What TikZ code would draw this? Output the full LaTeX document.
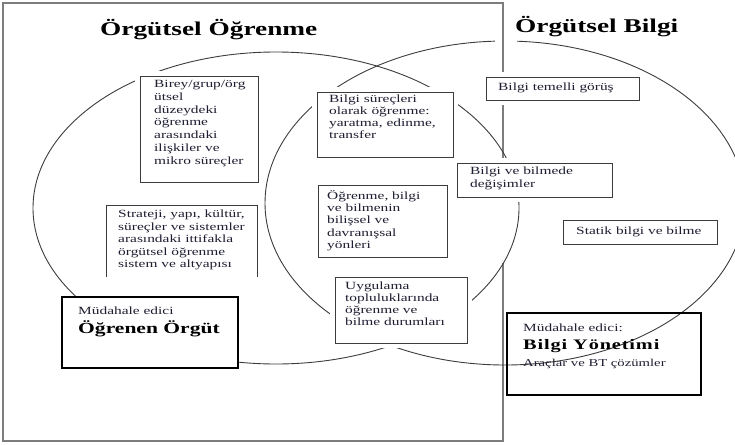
\documentclass[tikz,border=0pt]{standalone}
\usepackage{fontspec}
\setmainfont{Liberation Serif}
\newfontfamily\wideserif[FakeStretch=1.4]{Liberation Serif}
\newfontfamily\widespaced[FakeStretch=1.4,LetterSpace=6]{Liberation Serif}
\definecolor{ink}{RGB}{30,30,50}
\definecolor{framegray}{RGB}{125,125,125}
\definecolor{ringgray}{RGB}{60,60,60}

\begin{document}
\begin{tikzpicture}[x=1pt,y=-1pt,
  frame/.style={draw=framegray,line width=1.3pt},
  ring/.style={draw=ringgray,line width=0.9pt},
  card/.style={draw=ringgray,line width=0.8pt,fill=white,
    preaction={draw=white,line width=10pt},
    inner sep=0pt,outer sep=0pt,anchor=north west},
  opencard/.style={draw=ringgray,line width=0.8pt},
  heavycard/.style={draw=black,line width=2.6pt,inner sep=0pt,outer sep=0pt,anchor=north west},
  body/.style={font=\wideserif\fontsize{11}{12.4}\selectfont,align=left,
    inner sep=0pt,anchor=north west,text=ink},
  title/.style={font=\wideserif\bfseries\fontsize{19.5}{22}\selectfont,
    inner sep=0pt,anchor=base west,text=black},
  small/.style={font=\wideserif\fontsize{11}{12.4}\selectfont,
    inner sep=0pt,anchor=base west,text=ink},
]
\useasboundingbox (0,0) rectangle (735,444);

% outer frame (right edge interrupted)
\draw[frame] (503,263) -- (503,441) -- (3,441) -- (3,3) -- (503,3) -- (503,160);

% the two overlapping ellipses
\draw[ring] (276,208) ellipse [x radius=243,y radius=156];
\draw[ring] (505,203) ++(272.9:240 and 162)
  arc[start angle=272.9,end angle=627.6,x radius=240,y radius=162];

% headings
\node[title] (hOL) at (100,36) {Örgütsel Öğrenme};
\node[title] (hOB) at (515,33) {Örgütsel Bilgi};

% text boxes
\node[card,minimum width=118pt,minimum height=106pt] (bBirey) at (140,76) {};
\node[body,font=\wideserif\fontsize{11}{12.8}\selectfont] (tBirey) at (154,80)
  {Birey/grup/örg\\ütsel\\düzeydeki\\öğrenme\\arasındaki\\ilişkiler ve\\mikro süreçler};

\node[card,minimum width=136pt,minimum height=65pt] (bSurec) at (317,92) {};
\node[body,font=\wideserif\fontsize{11}{11.8}\selectfont] (tSurec) at (329,95)
  {Bilgi süreçleri\\olarak öğrenme:\\yaratma, edinme,\\transfer};

\node[card,minimum width=153pt,minimum height=23pt] (bTemel) at (486,77) {};
\node[body] (tTemel) at (498,83) {Bilgi temelli görüş};

\node[card,minimum width=155pt,minimum height=34pt] (bDegis) at (457,163) {};
\node[body,font=\wideserif\fontsize{11}{13}\selectfont] (tDegis) at (470,167)
  {Bilgi ve bilmede\\değişimler};

\node[card,minimum width=129pt,minimum height=72pt] (bYon) at (318,185) {};
\node[body] (tYon) at (327,190)
  {Öğrenme, bilgi\\ve bilmenin\\bilişsel ve\\davranışsal\\yönleri};

\draw[opencard] (106,277) -- (106,205) -- (257,205) -- (257,277);
\node[body] (tStrat) at (118,210)
  {Strateji, yapı, kültür,\\süreçler ve sistemler\\arasındaki ittifakla\\örgütsel öğrenme\\sistem ve altyapısı};

\node[card,minimum width=132pt,minimum height=66pt] (bUyg) at (335,277) {};
\node[body,font=\wideserif\fontsize{11}{12}\selectfont] (tUyg) at (345,282)
  {Uygulama\\topluluklarında\\öğrenme ve\\bilme durumları};

\node[card,minimum width=154pt,minimum height=24pt] (bStatik) at (563,220) {};
\node[body] (tStatik) at (576,227) {Statik bilgi ve bilme};

% intervention boxes
\node[heavycard,fill=white,minimum width=176pt,minimum height=71pt] (bOO) at (62,297) {};
\node[small] (tOO1) at (78,314) {Müdahale edici};
\node[title,font=\wideserif\bfseries\fontsize{15.4}{18}\selectfont] (tOO2) at (78,333) {Öğrenen Örgüt};

\node[heavycard,minimum width=194pt,minimum height=82pt] (bBY) at (507,313) {};
\node[small] (tBY1) at (523,331) {Müdahale edici:};
\node[title,font=\widespaced\bfseries\fontsize{14.5}{17}\selectfont] (tBY2) at (523,349) {Bilgi Yönetimi};
\node[small,font=\wideserif\fontsize{10.5}{12}\selectfont] (tBY3) at (523,366) {Araçlar ve BT çözümler};
\end{tikzpicture}
\end{document}
